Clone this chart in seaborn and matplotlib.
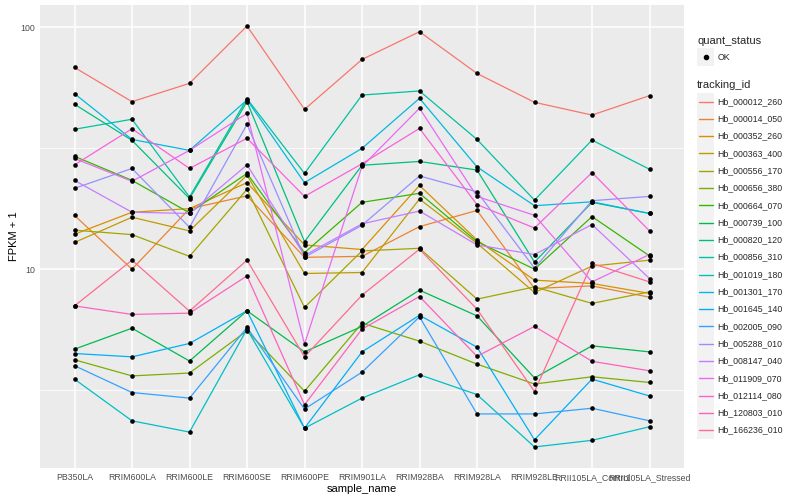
import numpy as np
import pandas as pd
import matplotlib
matplotlib.use("Agg")
import matplotlib.pyplot as plt
import seaborn as sns
from matplotlib.patches import Rectangle
from matplotlib.lines import Line2D

# ---------------- data (FPKM + 1) ----------------
samples = ["PB350LA", "RRIM600LA", "RRIM600LE", "RRIM600SE", "RRIM600PE",
           "RRIM901LA", "RRIM928BA", "RRIM928LA", "RRIM928LE",
           "RRII105LA_Control", "RRII105LA_Stressed"]

tracking_ids = ["Hb_000012_260", "Hb_000014_050", "Hb_000352_260", "Hb_000363_400",
                "Hb_000556_170", "Hb_000656_380", "Hb_000664_070", "Hb_000739_100",
                "Hb_000820_120", "Hb_000856_310", "Hb_001019_180", "Hb_001301_170",
                "Hb_001645_140", "Hb_002005_090", "Hb_005288_010", "Hb_008147_040",
                "Hb_011909_070", "Hb_012114_080", "Hb_120803_010", "Hb_166236_010"]

Hb_000012_260 = [68.3, 49.3, 58.7, 101.3, 45.8, 73.7, 96.0, 64.5, 49.0, 43.4, 52.2]
Hb_000014_050 = [16.7, 10.0, 17.8, 20.1, 11.2, 11.3, 15.0, 17.5, 8.32, 8.53, 7.66]
Hb_000352_260 = [13.95, 17.2, 17.8, 22.8, 12.6, 12.06, 22.2, 13.2, 9.01, 8.73, 7.94]
Hb_000363_400 = [12.9, 16.4, 14.4, 24.5, 9.60, 9.69, 19.5, 12.8, 8.01, 10.3, 10.9]
Hb_000556_170 = [14.5, 13.9, 11.3, 21.4, 6.95, 11.9, 12.2, 7.52, 8.45, 7.22, 8.06]
Hb_000656_380 = [4.22, 3.62, 3.72, 5.56, 3.13, 5.98, 5.04, 4.05, 3.35, 3.59, 3.40]
Hb_000664_070 = [29.3, 23.3, 17.1, 24.9, 11.7, 18.9, 20.6, 13.0, 10.0, 16.5, 11.35]
Hb_000739_100 = [4.67, 5.70, 4.17, 6.73, 4.55, 5.80, 8.19, 6.41, 3.55, 4.82, 4.55]
Hb_000820_120 = [48.1, 34.1, 19.6, 49.3, 13.0, 26.9, 27.9, 25.7, 10.7, 18.9, 17.0]
Hb_000856_310 = [37.9, 41.7, 19.9, 50.7, 24.9, 52.5, 54.6, 34.4, 19.3, 34.2, 25.9]
Hb_001019_180 = [3.51, 2.36, 2.12, 5.65, 2.20, 2.93, 3.66, 3.03, 1.84, 1.96, 2.23]
Hb_001301_170 = [53.2, 34.4, 31.0, 50.1, 22.8, 31.6, 50.9, 26.5, 18.3, 19.0, 17.0]
Hb_001645_140 = [4.48, 4.34, 4.93, 6.73, 2.20, 4.55, 6.45, 4.76, 1.97, 3.51, 2.99]
Hb_002005_090 = [3.99, 3.09, 2.93, 5.74, 2.64, 3.75, 6.35, 2.52, 2.52, 2.66, 2.36]
Hb_005288_010 = [21.6, 26.1, 14.9, 39.7, 11.2, 15.2, 24.3, 20.9, 10.1, 19.2, 20.0]
Hb_008147_040 = [23.3, 17.2, 17.0, 27.0, 11.4, 15.4, 17.4, 12.6, 11.5, 15.3, 9.15]
Hb_011909_070 = [28.7, 23.1, 31.0, 44.1, 4.90, 26.6, 46.3, 20.0, 16.7, 8.86, 11.5]
Hb_012114_080 = [27.0, 38.1, 26.1, 34.8, 20.0, 27.3, 38.2, 18.5, 14.8, 25.1, 14.4]
Hb_120803_010 = [7.05, 6.50, 6.58, 9.38, 2.75, 5.65, 7.71, 4.36, 5.80, 4.16, 3.80]
Hb_166236_010 = [7.05, 10.9, 6.71, 10.9, 4.34, 7.81, 12.1, 6.83, 3.12, 10.56, 8.86]

series = {
    "Hb_000012_260": Hb_000012_260, "Hb_000014_050": Hb_000014_050,
    "Hb_000352_260": Hb_000352_260, "Hb_000363_400": Hb_000363_400,
    "Hb_000556_170": Hb_000556_170, "Hb_000656_380": Hb_000656_380,
    "Hb_000664_070": Hb_000664_070, "Hb_000739_100": Hb_000739_100,
    "Hb_000820_120": Hb_000820_120, "Hb_000856_310": Hb_000856_310,
    "Hb_001019_180": Hb_001019_180, "Hb_001301_170": Hb_001301_170,
    "Hb_001645_140": Hb_001645_140, "Hb_002005_090": Hb_002005_090,
    "Hb_005288_010": Hb_005288_010, "Hb_008147_040": Hb_008147_040,
    "Hb_011909_070": Hb_011909_070, "Hb_012114_080": Hb_012114_080,
    "Hb_120803_010": Hb_120803_010, "Hb_166236_010": Hb_166236_010,
}

colors = ["#F8766D", "#EA8331", "#D89000", "#C09B00", "#A3A500", "#7CAE00",
          "#39B600", "#00BB4E", "#00BF7D", "#00C1A3", "#00BFC4", "#00BAE0",
          "#00B0F6", "#35A2FF", "#9590FF", "#C77CFF", "#E76BF3", "#FA62DB",
          "#FF62BC", "#FF6C91"]
palette = dict(zip(tracking_ids, colors))

rows = []
for tid in tracking_ids:
    for i, s in enumerate(samples):
        rows.append({"tracking_id": tid, "sample_name": s, "pos": i,
                     "fpkm": series[tid][i], "quant_status": "OK"})
df = pd.DataFrame(rows)

# ---------------- figure ----------------
sns.set_style("white")
plt.rcParams["font.family"] = ["Liberation Sans", "DejaVu Sans"]

W, H = 800, 500
fig = plt.figure(figsize=(8, 5), dpi=100)
pl, pr, pt, pb = 40, 684, 5, 468
ax = fig.add_axes([pl / W, 1 - pb / H, (pr - pl) / W, (pb - pt) / H])
ax.set_facecolor("#EBEBEB")
for sp in ax.spines.values():
    sp.set_visible(False)

ax.set_yscale("log")
lmin, lmax = np.log10(df["fpkm"].min()), np.log10(df["fpkm"].max())
ext = (lmax - lmin) * 0.05
ax.set_ylim(10 ** (lmin - ext), 10 ** (lmax + ext))
ax.set_xlim(-0.6, len(samples) - 1 + 0.6)

# grid
for v in [10 ** 0.5, 10 ** 1.5]:
    ax.axhline(v, color="white", lw=0.55, zorder=0)
for v in [10, 100]:
    ax.axhline(v, color="white", lw=1.1, zorder=0)
for i in range(len(samples)):
    ax.axvline(i, color="white", lw=1.1, zorder=0)

sns.lineplot(data=df, x="pos", y="fpkm", hue="tracking_id", hue_order=tracking_ids,
             palette=palette, estimator=None, sort=False, linewidth=0.9,
             legend=False, ax=ax, zorder=2)
sns.scatterplot(data=df, x="pos", y="fpkm", color="black", s=11, linewidth=0,
                legend=False, ax=ax, zorder=3)

ax.set_yticks([10, 100])
ax.set_yticklabels(["10", "100"])
ax.yaxis.set_minor_locator(matplotlib.ticker.NullLocator())
ax.set_xticks(range(len(samples)))
ax.set_xticklabels(samples)
ax.tick_params(axis="both", length=2.2, width=0.5, color="#333333",
               labelsize=6.3, labelcolor="#4D4D4D", pad=1.5)
ax.set_xlabel("sample_name", fontsize=8, color="black", labelpad=1.5)
ax.set_ylabel("FPKM + 1", fontsize=8, color="black", labelpad=1)

# ---------------- legend (pixel coordinates) ----------------
lax = fig.add_axes([0, 0, 1, 1], zorder=5)
lax.set_xlim(0, W)
lax.set_ylim(H, 0)
lax.axis("off")
lax.patch.set_alpha(0)

kx, ksz = 697, 17.3
lax.text(kx, 41, "quant_status", fontsize=8, va="center", ha="left")
lax.add_patch(Rectangle((kx, 57 - ksz / 2), ksz, ksz, facecolor="#F2F2F2", edgecolor="none"))
lax.plot([kx + ksz / 2], [57], "o", color="black", markersize=3)
lax.text(kx + ksz + 3, 57, "OK", fontsize=6.3, va="center", ha="left")

lax.text(kx, 85, "tracking_id", fontsize=8, va="center", ha="left")
y0 = 101.5
for j, tid in enumerate(tracking_ids):
    yc = y0 + j * ksz
    lax.add_patch(Rectangle((kx, yc - ksz / 2), ksz, ksz, facecolor="#F2F2F2", edgecolor="none"))
    lax.add_line(Line2D([kx + 1.5, kx + ksz - 1.5], [yc, yc], color=palette[tid], lw=1.0))
    lax.text(kx + ksz + 3, yc, tid, fontsize=6.3, va="center", ha="left")

fig.savefig("out.png", dpi=100)
